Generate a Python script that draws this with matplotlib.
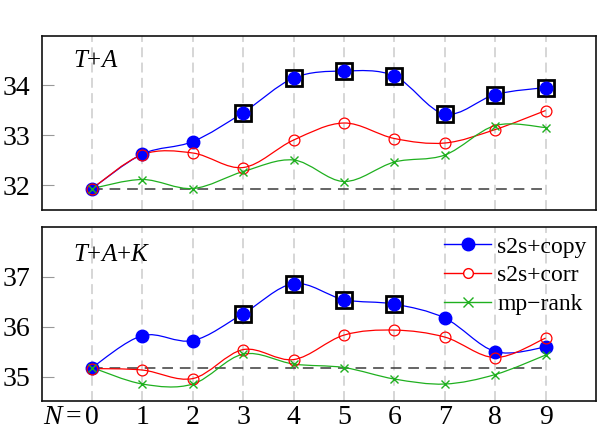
import numpy as np
import matplotlib
matplotlib.use("Agg")
import matplotlib.pyplot as plt
from matplotlib.path import Path
from matplotlib.patches import PathPatch
from matplotlib.lines import Line2D
import matplotlib.transforms as mtransforms

plt.rcParams['font.family'] = ['Liberation Serif', 'DejaVu Serif']
plt.rcParams['mathtext.fontset'] = 'custom'
plt.rcParams['mathtext.rm'] = 'Liberation Serif'
plt.rcParams['mathtext.it'] = 'Liberation Serif:italic'

N = list(range(10))
xtick_labels = ['0', '1', '2', '3', '4', '5', '6', '7', '8', '9']

# Panel 1: T+A
ta_copy = [31.93, 32.62, 32.87, 33.45, 34.14, 34.28, 34.18, 33.42, 33.81, 33.95]
ta_corr = [31.93, 32.61, 32.64, 32.35, 32.90, 33.24, 32.93, 32.84, 33.11, 33.49]
ta_rank = [31.93, 32.11, 31.93, 32.27, 32.50, 32.07, 32.46, 32.60, 33.19, 33.15]
ta_base = 31.93
ta_boxed = [3, 4, 5, 6, 7, 8, 9]

# Panel 2: T+A+K
tak_copy = [35.18, 35.82, 35.72, 36.26, 36.86, 36.54, 36.45, 36.17, 35.50, 35.59]
tak_corr = [35.16, 35.13, 34.96, 35.54, 35.34, 35.83, 35.93, 35.79, 35.38, 35.77]
tak_rank = [35.18, 34.85, 34.85, 35.45, 35.25, 35.18, 34.95, 34.85, 35.04, 35.43]
tak_base = 35.18
tak_boxed = [3, 4, 5, 6]

BLUE = '#0000ff'
RED = '#ff0000'
GREEN = '#1fb01f'


def smooth_path(x, y, t=1/6.0):
    pts = np.column_stack([x, y]).astype(float)
    n = len(pts)
    verts = [pts[0]]
    codes = [Path.MOVETO]
    for i in range(n - 1):
        p0 = pts[i - 1] if i > 0 else pts[i]
        p1 = pts[i]
        p2 = pts[i + 1]
        p3 = pts[i + 2] if i + 2 < n else pts[i + 1]
        c1 = p1 + (p2 - p0) * t
        c2 = p2 - (p3 - p1) * t
        verts += [c1, c2, p2]
        codes += [Path.CURVE4] * 3
    return Path(verts, codes)


def panel(ax, copy, corr, rank, base, boxed, ylim, yticks, label, label_y):
    ax.set_xlim(-1.0, 10.0)
    ax.set_ylim(*ylim)
    for xv in N:
        ax.axvline(xv, color='#cccccc', lw=1.1, ls=(0, (6.5, 3.5)), zorder=0)
    ax.plot([N[0], N[-1]], [base, base], color='#3a3a3a', lw=1.1,
            ls=(0, (7, 4.5)), zorder=1)
    for data, col in [(copy, BLUE), (corr, RED), (rank, GREEN)]:
        ax.add_patch(PathPatch(smooth_path(N, data), fill=False, edgecolor=col,
                               lw=0.9, zorder=2))
    bx = [N[i] for i in boxed]
    by = [copy[i] for i in boxed]
    ax.plot(bx, by, ls='none', marker='s', ms=11.2, mfc='white', mec='black',
            mew=2.0, zorder=3)
    ax.plot(N, copy, ls='none', marker='o', ms=9, mfc=BLUE, mec=BLUE, zorder=4)
    ax.plot(N, corr, ls='none', marker='o', ms=7.8, mfc='none', mec=RED,
            mew=0.9, zorder=5)
    ax.plot(N, rank, ls='none', marker='x', ms=6, mec=GREEN, mew=1.0, zorder=6)
    ax.set_yticks(yticks)
    ax.set_yticklabels([str(v) for v in yticks])
    ax.tick_params(axis='y', direction='in', length=8.5, width=0.8,
                   color='#999999', labelsize=20, pad=8.4)
    ax.tick_params(axis='x', length=0, labelsize=20, pad=3)
    ax.set_xticks(N)
    for s in ax.spines.values():
        s.set_linewidth(1.2)
        s.set_color('#111111')
    ax.text(0.056, label_y, label, transform=ax.transAxes, fontsize=18,
            ha='left', va='center')


fig = plt.figure(figsize=(5.98, 4.34), dpi=100)
ax1 = fig.add_axes([0.0697, 0.5161, 0.927, 0.4009])
ax2 = fig.add_axes([0.0697, 0.0760, 0.927, 0.4016])

panel(ax1, ta_copy, ta_corr, ta_rank, ta_base, ta_boxed, (31.5, 34.98),
      [32, 33, 34], '$T$+$A$', 0.855)
ax1.set_xticklabels([])
panel(ax2, tak_copy, tak_corr, tak_rank, tak_base, tak_boxed, (34.51, 38.0),
      [35, 36, 37], '$T$+$A$+$K$', 0.84)
ax2.set_xticklabels(xtick_labels)

# "N=" prefix hanging left of the first tick label
trans = mtransforms.blended_transform_factory(ax2.transData, ax2.transAxes)
ax2.annotate(r'$N\,$=', xy=(0, 0), xycoords=trans, xytext=(-7.5, -3),
             textcoords='offset points', ha='right', va='top', fontsize=20,
             annotation_clip=False)

handles = [
    Line2D([], [], color=BLUE, lw=1.0, marker='o', ms=9, mfc=BLUE, mec=BLUE),
    Line2D([], [], color=RED, lw=1.0, marker='o', ms=7, mfc='white', mec=RED),
    Line2D([], [], color=GREEN, lw=1.0, marker='x', ms=6.5, mec=GREEN),
]
ax2.legend(handles, ['s2s+copy', 's2s+corr', 'mp\u2212rank'], loc='upper right',
           bbox_to_anchor=(1.0, 1.0), frameon=False,
           fontsize=17, handlelength=2.0, handletextpad=0.25, labelspacing=0.3,
           borderpad=0.1, borderaxespad=0.3)

fig.savefig('out.png', dpi=100)
